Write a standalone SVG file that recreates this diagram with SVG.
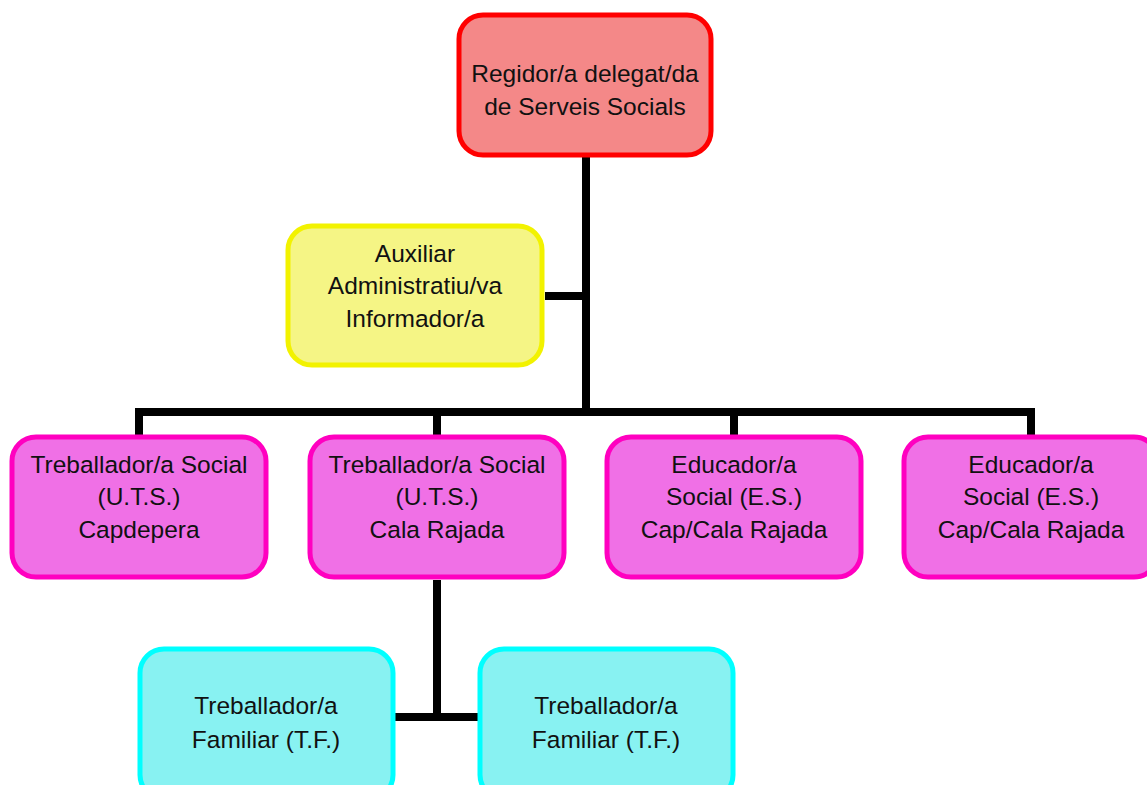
<svg xmlns="http://www.w3.org/2000/svg" width="1147" height="785" viewBox="0 0 1147 785">
<style>
.box{stroke-width:5}
.red{fill:#f48888;stroke:#ff0000}
.yel{fill:#f5f585;stroke:#f2f200}
.mag{fill:#f070e6;stroke:#ff00c0}
.cya{fill:#88f2f2;stroke:#00ffff}
text{font-family:"Liberation Sans",Arial,sans-serif;font-size:24.5px;fill:#111;text-anchor:middle}
.con{stroke:#000;stroke-width:8;fill:none}
</style>
<rect width="1147" height="785" fill="#fff"/>
<g id="connectors">
<line class="con" x1="586" y1="156" x2="586" y2="412"/>
<line class="con" x1="545" y1="296" x2="586" y2="296"/>
<polyline class="con" points="139,436 139,412 1031,412 1031,436"/>
<line class="con" x1="437" y1="412" x2="437" y2="436"/>
<line class="con" x1="734" y1="412" x2="734" y2="436"/>
<line class="con" x1="437" y1="580" x2="437" y2="717"/>
<line class="con" x1="394" y1="717" x2="479" y2="717"/>
</g>
<g id="n-regidor">
<rect class="box red" x="459" y="15" width="252" height="140" rx="24"/>
<text x="585" y="82">Regidor/a delegat/da</text>
<text x="585" y="115">de Serveis Socials</text>
</g>
<g id="n-auxiliar">
<rect class="box yel" x="288" y="226" width="254" height="139" rx="24"/>
<text x="415" y="262">Auxiliar</text>
<text x="415" y="294">Administratiu/va</text>
<text x="415" y="327">Informador/a</text>
</g>
<g id="n-ts1">
<rect class="box mag" x="12" y="437" width="254" height="140" rx="24"/>
<text x="139" y="473">Treballador/a Social</text>
<text x="139" y="505">(U.T.S.)</text>
<text x="139" y="538">Capdepera</text>
</g>
<g id="n-ts2">
<rect class="box mag" x="310" y="437" width="254" height="140" rx="24"/>
<text x="437" y="473">Treballador/a Social</text>
<text x="437" y="505">(U.T.S.)</text>
<text x="437" y="538">Cala Rajada</text>
</g>
<g id="n-es1">
<rect class="box mag" x="607" y="437" width="254" height="140" rx="24"/>
<text x="734" y="473">Educador/a</text>
<text x="734" y="505">Social (E.S.)</text>
<text x="734" y="538">Cap/Cala Rajada</text>
</g>
<g id="n-es2">
<rect class="box mag" x="904" y="437" width="254" height="140" rx="24"/>
<text x="1031" y="473">Educador/a</text>
<text x="1031" y="505">Social (E.S.)</text>
<text x="1031" y="538">Cap/Cala Rajada</text>
</g>
<g id="n-tf1">
<rect class="box cya" x="140" y="649" width="253" height="150" rx="24"/>
<text x="266" y="714">Treballador/a</text>
<text x="266" y="748">Familiar (T.F.)</text>
</g>
<g id="n-tf2">
<rect class="box cya" x="480" y="649" width="253" height="150" rx="24"/>
<text x="606" y="714">Treballador/a</text>
<text x="606" y="748">Familiar (T.F.)</text>
</g>
</svg>
